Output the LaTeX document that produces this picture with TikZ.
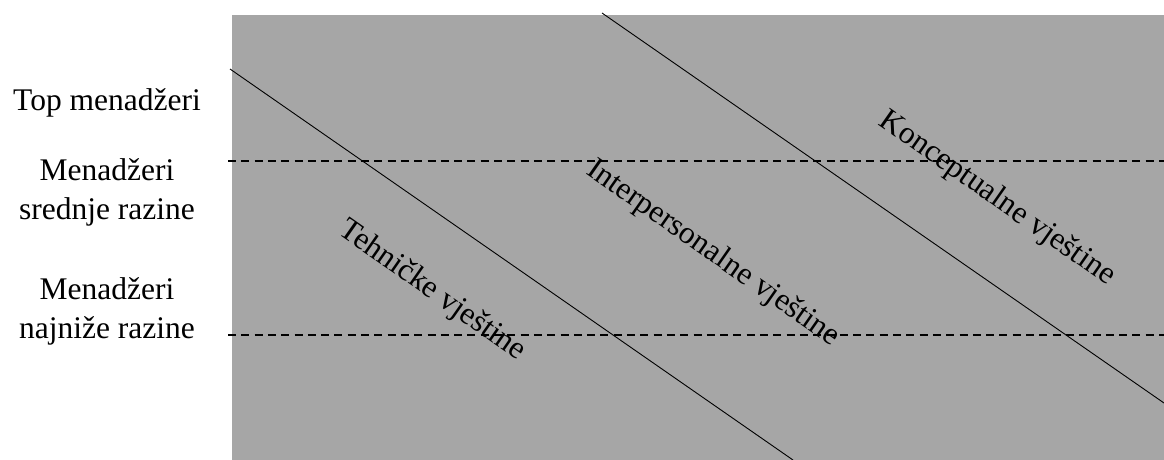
\documentclass[tikz,border=0pt]{standalone}
\usepackage{fontspec}
\setmainfont{Liberation Serif}
\definecolor{panelgray}{RGB}{166,166,166}
\tikzset{
  lbl/.style={inner sep=0pt, align=center, font=\fontsize{31.5}{39}\selectfont},
  skill/.style={inner sep=0pt, rotate=-35, font=\fontsize{31.5}{39}\selectfont},
  divider/.style={line width=0.9pt, black},
  level/.style={line width=1.5pt, black, dash pattern=on 8pt off 5.3pt}
}
\begin{document}
\begin{tikzpicture}[x=1pt,y=-1pt]
\useasboundingbox (0,0) rectangle (1164,460);
\fill[panelgray] (232,15) rectangle (1164,460);
% level lines
\coordinate (l1a) at (228,161);
\coordinate (l1b) at (1164,161);
\coordinate (l2a) at (228,335);
\coordinate (l2b) at (1164,335);
\draw[level] (l1a) -- (l1b);
\draw[level] (l2a) -- (l2b);
% skill boundaries
\coordinate (d1a) at (230,69);
\coordinate (d1b) at (793,460);
\coordinate (d2a) at (602,13);
\coordinate (d2b) at (1164,403);
\draw[divider] (d1a) -- (d1b);
\draw[divider] (d2a) -- (d2b);
% left labels
\node[lbl, anchor=base] (top) at (107,110) {Top menadžeri};
\node[lbl] (mid) at (107,192) {Menadžeri\\srednje razine};
\node[lbl] (low) at (107,311) {Menadžeri\\najniže razine};
% skill labels
\node[skill] (teh) at (432,291) {Tehničke vještine};
\node[skill] (int) at (713,254) {Interpersonalne vještine};
\node[skill] (kon) at (997,199) {Konceptualne vještine};
\end{tikzpicture}
\end{document}
